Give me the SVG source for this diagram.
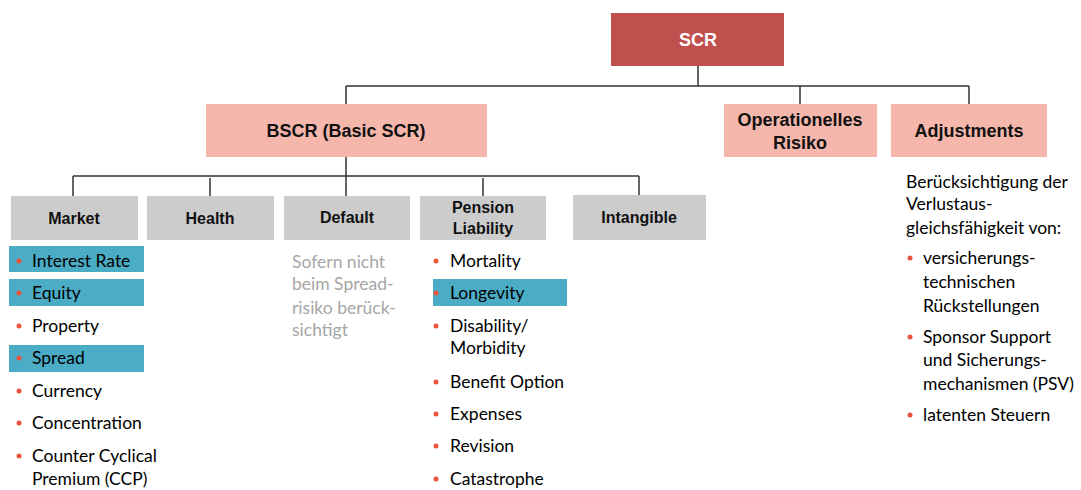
<svg xmlns="http://www.w3.org/2000/svg" width="1081" height="490" viewBox="0 0 1081 490">
<style>
.hd{font-family:"Liberation Sans",Arial,sans-serif;font-weight:bold;font-size:16px;fill:#111;text-anchor:middle}
.hl{font-size:18px}
.pk{fill:#F5B7AB}
.gr{fill:#CCCCCC}
.hi{fill:#4BACC6}
.tx{font-family:Lato,"Open Sans",sans-serif;font-size:17.5px;fill:#000}
.nt{font-family:Lato,"Open Sans",sans-serif;font-size:17.5px;fill:#A6A6A6}
.bu{fill:#E8553A}
.ln{fill:none;stroke:#333;stroke-width:1.5}
</style>
<g id="connectors">
<path class="ln" d="M698 66V86M346 86H969M346 86V104M800 86V104M969 86V104"/>
<path class="ln" d="M346 157V196M73 176H639M73 176V196M210 178V196M483 178V196M639 176V196"/>
</g>
<g id="scr"><rect x="611" y="13" width="173" height="53" fill="#C0504D"/><text class="hd hl" x="698" y="46" style="fill:#fff">SCR</text></g>
<g id="bscr"><rect class="pk" x="206" y="104" width="281" height="53"/><text class="hd hl" x="346" y="137">BSCR (Basic SCR)</text></g>
<g id="oprisk"><rect class="pk" x="724" y="104" width="153" height="53"/><text class="hd hl" x="800" y="126">Operationelles</text><text class="hd hl" x="800" y="149">Risiko</text></g>
<g id="adjustments"><rect class="pk" x="891" y="104" width="156" height="53"/><text class="hd hl" x="969" y="137">Adjustments</text>
<text class="tx" x="906" y="188">Berücksichtigung der</text>
<text class="tx" x="906" y="210">Verlustaus-</text>
<text class="tx" x="906" y="234">gleichsfähigkeit von:</text>
<circle class="bu" cx="910" cy="258" r="2.5"/><text class="tx" x="923" y="264">versicherungs-</text>
<text class="tx" x="923" y="288">technischen</text>
<text class="tx" x="923" y="312">Rückstellungen</text>
<circle class="bu" cx="910" cy="337" r="2.5"/><text class="tx" x="923" y="343">Sponsor Support</text>
<text class="tx" x="923" y="366">und Sicherungs-</text>
<text class="tx" x="923" y="390">mechanismen (PSV)</text>
<circle class="bu" cx="910" cy="415" r="2.5"/><text class="tx" x="923" y="421">latenten Steuern</text>
</g>
<g id="market"><rect class="gr" x="11" y="196" width="127" height="44"/><text class="hd" x="74" y="224">Market</text>
<rect class="hi" x="9" y="246" width="135" height="26"/>
<rect class="hi" x="9" y="279" width="135" height="27"/>
<rect class="hi" x="9" y="345" width="135" height="27"/>
<circle class="bu" cx="19" cy="261" r="2.5"/><text class="tx" x="32" y="267">Interest Rate</text>
<circle class="bu" cx="19" cy="293" r="2.5"/><text class="tx" x="32" y="299">Equity</text>
<circle class="bu" cx="19" cy="326" r="2.5"/><text class="tx" x="32" y="332">Property</text>
<circle class="bu" cx="19" cy="358" r="2.5"/><text class="tx" x="32" y="364">Spread</text>
<circle class="bu" cx="19" cy="391" r="2.5"/><text class="tx" x="32" y="397">Currency</text>
<circle class="bu" cx="19" cy="423" r="2.5"/><text class="tx" x="32" y="429">Concentration</text>
<circle class="bu" cx="19" cy="456" r="2.5"/><text class="tx" x="32" y="462">Counter Cyclical</text>
<text class="tx" x="32" y="485">Premium (CCP)</text>
</g>
<g id="health"><rect class="gr" x="147" y="196" width="127" height="44"/><text class="hd" x="210" y="224">Health</text></g>
<g id="default"><rect class="gr" x="284" y="196" width="126" height="44"/><text class="hd" x="347" y="223">Default</text>
<text class="nt" x="292" y="268">Sofern nicht</text>
<text class="nt" x="292" y="290">beim Spread-</text>
<text class="nt" x="292" y="314">risiko berück-</text>
<text class="nt" x="292" y="336">sichtigt</text>
</g>
<g id="pension"><rect class="gr" x="420" y="196" width="126" height="44"/><text class="hd" x="483" y="213">Pension</text><text class="hd" x="483" y="234">Liability</text>
<rect class="hi" x="433" y="279" width="134" height="27"/>
<circle class="bu" cx="436" cy="261" r="2.5"/><text class="tx" x="450" y="267">Mortality</text>
<circle class="bu" cx="436" cy="293" r="2.5"/><text class="tx" x="450" y="299">Longevity</text>
<circle class="bu" cx="436" cy="326" r="2.5"/><text class="tx" x="450" y="332">Disability/</text>
<text class="tx" x="450" y="354">Morbidity</text>
<circle class="bu" cx="436" cy="382" r="2.5"/><text class="tx" x="450" y="388">Benefit Option</text>
<circle class="bu" cx="436" cy="414" r="2.5"/><text class="tx" x="450" y="420">Expenses</text>
<circle class="bu" cx="436" cy="446" r="2.5"/><text class="tx" x="450" y="452">Revision</text>
<circle class="bu" cx="436" cy="479" r="2.5"/><text class="tx" x="450" y="485">Catastrophe</text>
</g>
<g id="intangible"><rect class="gr" x="573" y="195" width="133" height="45"/><text class="hd" x="639" y="223">Intangible</text></g>
</svg>
